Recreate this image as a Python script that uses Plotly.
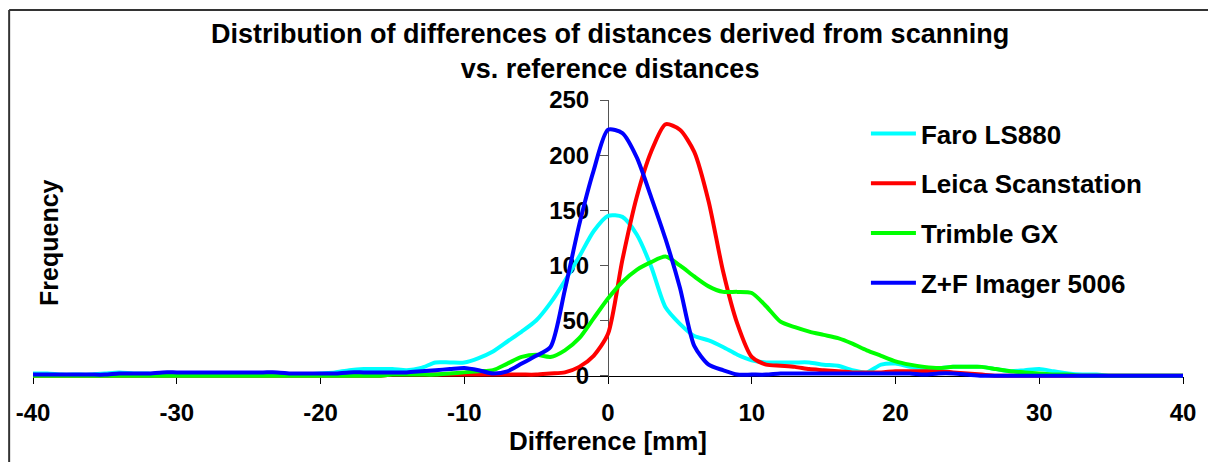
import plotly.graph_objects as go

x_mm = list(range(-40, 41))

faro = [2, 2, 1, 1, 1, 2, 3, 2, 2, 1,
        1, 1, 1, 1, 1, 1, 1, 1, 1, 1,
        2, 3, 5, 6, 6, 6, 5, 7, 12, 12,
        12, 16, 22, 31, 40, 50, 66, 86, 108, 131,
        145, 144, 128, 99, 62, 47, 36, 32, 26, 19,
        14, 12, 12, 12, 12, 10, 9, 5, 3, 10,
        11, 8, 7, 7, 8, 8, 8, 6, 4, 5,
        6, 4, 2, 1, 1, 0, 0, 0, 0, 0, 0]

leica = [0, 0, 0, 0, 0, 0, 0, 0, 0, 0,
         0, 0, 0, 0, 0, 0, 0, 0, 0, 0,
         0, 0, 0, 0, 0, 1, 1, 1, 1, 1,
         1, 1, 1, 1, 1, 1, 2, 3, 8, 18,
         38, 105, 162, 203, 228, 223, 203, 158, 95, 47,
         17, 10, 9, 8, 6, 5, 4, 3, 3, 3,
         4, 4, 4, 4, 3, 2, 1, 0, 0, 0,
         0, 0, 0, 0, 0, 0, 0, 0, 0, 0, 0]

trimble = [0, 0, 0, 0, 0, 0, 0, 0, 0, 0,
           0, 0, 0, 0, 0, 0, 0, 0, 0, 0,
           0, 0, 0, 0, 0, 1, 1, 1, 1, 2,
           3, 4, 5, 11, 17, 19, 17, 23, 34, 52,
           70, 85, 96, 103, 108, 100, 90, 81, 76, 76,
           75, 63, 49, 44, 40, 37, 34, 29, 23, 18,
           13, 10, 8, 7, 8, 8, 8, 6, 4, 3,
           2, 1, 1, 0, 0, 0, 0, 0, 0, 0, 0]

zf = [1, 1, 1, 1, 1, 1, 2, 2, 2, 3,
      3, 3, 3, 3, 3, 3, 3, 3, 2, 2,
      2, 2, 3, 3, 3, 3, 3, 4, 5, 6,
      7, 5, 2, 4, 11, 18, 26, 78, 137, 186,
      223, 220, 198, 162, 124, 80, 27, 10, 5, 1,
      1, 1, 2, 2, 2, 2, 2, 2, 2, 2,
      2, 2, 1, 2, 2, 1, 0, 0, 0, 0,
      0, 0, 0, 0, 0, 0, 0, 0, 0, 0, 0]

series_names = ["Faro LS880", "Leica Scanstation", "Trimble GX", "Z+F Imager 5006"]
series_values = [faro, leica, trimble, zf]
series_colors = ["#00FFFF", "#FF0000", "#00FF00", "#0000FF"]

x_ticks = [-40, -30, -20, -10, 0, 10, 20, 30, 40]
y_ticks = [0, 50, 100, 150, 200, 250]

FONT = "Liberation Sans, Arial, sans-serif"

fig = go.Figure()
for i, (name, vals, col) in enumerate(zip(series_names, series_values, series_colors)):
    fig.add_trace(go.Scatter(
        x=x_mm, y=vals, mode="lines", name=name,
        line=dict(color=col, width=4, shape="spline", smoothing=0.7),
        legendgroup=str(i),
    ))

W, H = 1208, 462
ml, mr, mt, mb = 33, 18, 100, 83
ymin, ymax = -3, 250
pw = W - ml - mr
ph = H - mt - mb

def px_x(px):
    return (px - ml) / pw

def px_y(py):
    return (H - mb - py) / ph

fig.update_layout(
    width=W, height=H,
    margin=dict(l=ml, r=mr, t=mt, b=mb),
    paper_bgcolor="white", plot_bgcolor="white",
    font=dict(family=FONT, color="black"),
    showlegend=True,
    legend=dict(
        x=px_x(871), y=px_y(110), xanchor="left", yanchor="top",
        font=dict(family=FONT, size=26, color="black", weight="bold"),
        tracegroupgap=13, bgcolor="rgba(0,0,0,0)",
        itemwidth=45,
    ),
    xaxis=dict(
        range=[-40, 40], tickvals=x_ticks, ticktext=[str(v) for v in x_ticks],
        showgrid=False, zeroline=False, showline=True, linecolor="black", linewidth=1,
        ticks="outside", ticklen=7, tickcolor="black",
        anchor="free", position=(0 - ymin) / (ymax - ymin),
        tickfont=dict(family=FONT, size=24, color="black", weight="bold"),
        ticklabelstandoff=9, layer="below traces",
    ),
    yaxis=dict(
        range=[ymin, ymax], tickvals=y_ticks, ticktext=[str(v) for v in y_ticks],
        showgrid=False, zeroline=False, showline=True, linecolor="#555555", linewidth=1,
        ticks="outside", ticklen=8, tickcolor="#555555",
        anchor="free", position=0.5,
        tickfont=dict(family=FONT, size=24, color="black", weight="bold"),
        ticklabelstandoff=6, layer="below traces",
    ),
    annotations=[
        dict(text="<b>Distribution of differences of distances derived from scanning<br>vs. reference distances</b>",
             xref="paper", yref="paper", x=px_x(614), y=px_y(51), xanchor="center", yanchor="middle",
             showarrow=False, font=dict(family=FONT, size=27, color="black")),
        dict(text="<b>Difference [mm]</b>", xref="paper", yref="paper",
             x=px_x(612), y=px_y(441), xanchor="center", yanchor="middle",
             showarrow=False, font=dict(family=FONT, size=26, color="black")),
        dict(text="<b>Frequency</b>", xref="paper", yref="paper", textangle=-90,
             x=px_x(49), y=px_y(242), xanchor="center", yanchor="middle",
             showarrow=False, font=dict(family=FONT, size=25, color="black")),
    ],
    shapes=[
        dict(type="line", xref="paper", yref="paper",
             x0=px_x(9), x1=px_x(1240), y0=px_y(10), y1=px_y(10),
             line=dict(color="#333333", width=2), layer="below"),
        dict(type="line", xref="paper", yref="paper",
             x0=px_x(9), x1=px_x(9), y0=px_y(10), y1=px_y(500),
             line=dict(color="#333333", width=2), layer="below"),
    ],
)

fig.write_html("out.html")
